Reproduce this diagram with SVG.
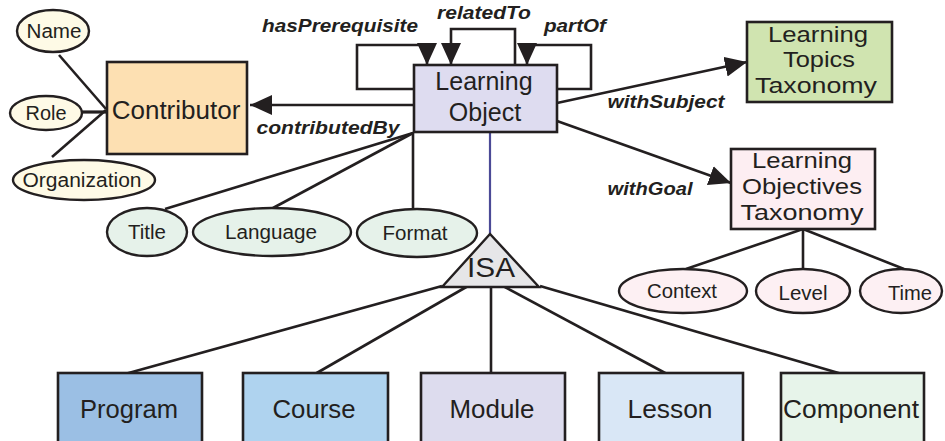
<svg xmlns="http://www.w3.org/2000/svg" width="945" height="441" viewBox="0 0 945 441">
<defs>
<marker id="arr" markerUnits="userSpaceOnUse" markerWidth="24" markerHeight="22" refX="22" refY="10" orient="auto">
<path d="M0,0 L22,10 L0,20 Z" fill="#231f20"/>
</marker>
<style>
.box{stroke:#231f20;stroke-width:2.6}
.ell{stroke:#231f20;stroke-width:2.4}
.ln{stroke:#231f20;stroke-width:2.6;fill:none}
.t{font-family:"Liberation Sans",Arial,sans-serif;fill:#231f20;text-anchor:middle}
.big{font-size:25px}
.tax{font-size:22px}
.sm{font-size:20px}
.lbl{font-family:"Liberation Sans",Arial,sans-serif;font-weight:bold;font-style:italic;font-size:19px;fill:#231f20;text-anchor:middle}
</style>
</defs>
<rect width="945" height="441" fill="#ffffff"/>

<g id="connectors">
<line class="ln" x1="59" y1="55" x2="106" y2="109"/>
<line class="ln" x1="82" y1="112" x2="107" y2="112" style="stroke-width:3.2"/>
<line class="ln" x1="52" y1="157" x2="106" y2="110"/>
<line class="ln" x1="413" y1="105" x2="250" y2="105" marker-end="url(#arr)"/>
<polyline class="ln" points="414,89 357,89 357,45 427,45 427,65" marker-end="url(#arr)"/>
<polyline class="ln" points="515,65 515,29 451,29 451,65" marker-end="url(#arr)"/>
<polyline class="ln" points="557,89 591,89 591,45 527,45 527,65" marker-end="url(#arr)"/>
<line class="ln" x1="557" y1="103" x2="747" y2="62" marker-end="url(#arr)"/>
<line class="ln" x1="557" y1="121" x2="731" y2="183" marker-end="url(#arr)"/>
<line class="ln" x1="413" y1="133" x2="165" y2="209"/>
<line class="ln" x1="413" y1="133" x2="273" y2="208"/>
<line class="ln" x1="413" y1="132" x2="413" y2="209"/>
<line x1="490" y1="132" x2="490" y2="234" stroke="#4b4a96" stroke-width="2.2"/>
<line class="ln" x1="803" y1="229" x2="686" y2="269"/>
<line class="ln" x1="803" y1="229" x2="803" y2="269"/>
<line class="ln" x1="803" y1="229" x2="904" y2="269"/>
<line class="ln" x1="442" y1="286" x2="125" y2="374"/>
<line class="ln" x1="468" y1="286" x2="315" y2="374"/>
<line class="ln" x1="491" y1="286" x2="491" y2="374"/>
<line class="ln" x1="503" y1="286" x2="667" y2="374"/>
<line class="ln" x1="540" y1="286" x2="842" y2="374"/>
<text class="lbl" x="340" y="32" textLength="156" lengthAdjust="spacingAndGlyphs">hasPrerequisite</text>
<text class="lbl" x="484" y="19" textLength="94" lengthAdjust="spacingAndGlyphs">relatedTo</text>
<text class="lbl" x="575" y="32" textLength="62" lengthAdjust="spacingAndGlyphs">partOf</text>
<text class="lbl" x="328" y="134" textLength="143" lengthAdjust="spacingAndGlyphs">contributedBy</text>
<text class="lbl" x="666" y="108" textLength="117" lengthAdjust="spacingAndGlyphs">withSubject</text>
<text class="lbl" x="650" y="195" textLength="85" lengthAdjust="spacingAndGlyphs">withGoal</text>
</g>

<g id="name"><ellipse class="ell" cx="53" cy="31" rx="36" ry="21" fill="#fefae6"/><text class="t sm" x="54" y="38" textLength="55" lengthAdjust="spacingAndGlyphs">Name</text></g>
<g id="role"><ellipse class="ell" cx="46" cy="113" rx="36" ry="17" fill="#fefae6"/><text class="t sm" x="46" y="120" textLength="41" lengthAdjust="spacingAndGlyphs">Role</text></g>
<g id="organization"><ellipse class="ell" cx="84" cy="180" rx="71" ry="20" fill="#fefae6"/><text class="t sm" x="82" y="187" textLength="119" lengthAdjust="spacingAndGlyphs">Organization</text></g>

<g id="contributor"><rect class="box" x="107" y="62" width="140" height="92" fill="#fde0b2"/><text class="t" style="font-size:26px" x="176" y="119">Contributor</text></g>

<g id="learning-object"><rect class="box" x="414" y="65" width="143" height="67" fill="#dedcf0"/>
<text class="t big" x="484" y="90">Learning</text><text class="t big" x="485" y="121">Object</text></g>

<g id="topics"><rect class="box" x="747" y="22" width="145" height="80" fill="#d0e4b0"/>
<text class="t tax" x="818" y="42" textLength="100" lengthAdjust="spacingAndGlyphs">Learning</text>
<text class="t tax" x="819" y="67" textLength="72" lengthAdjust="spacingAndGlyphs">Topics</text>
<text class="t tax" x="816" y="93" textLength="122" lengthAdjust="spacingAndGlyphs">Taxonomy</text></g>

<g id="objectives"><rect class="box" x="731" y="149" width="144" height="80" fill="#fdeef2"/>
<text class="t tax" x="802" y="168" textLength="100" lengthAdjust="spacingAndGlyphs">Learning</text>
<text class="t tax" x="802" y="194" textLength="120" lengthAdjust="spacingAndGlyphs">Objectives</text>
<text class="t tax" x="802" y="220" textLength="123" lengthAdjust="spacingAndGlyphs">Taxonomy</text></g>

<g id="title"><ellipse class="ell" cx="147" cy="232" rx="40" ry="24" fill="#e6f2ea"/><text class="t sm" x="147" y="239" textLength="38" lengthAdjust="spacingAndGlyphs">Title</text></g>
<g id="language"><ellipse class="ell" cx="272" cy="232" rx="79" ry="24" fill="#e6f2ea"/><text class="t sm" x="271" y="239" textLength="92" lengthAdjust="spacingAndGlyphs">Language</text></g>
<g id="format"><ellipse class="ell" cx="417" cy="233" rx="60" ry="24" fill="#e6f2ea"/><text class="t sm" x="415" y="240" textLength="65" lengthAdjust="spacingAndGlyphs">Format</text></g>

<g id="context"><ellipse class="ell" cx="683" cy="291" rx="64" ry="22" fill="#fdf0f3"/><text class="t sm" x="682" y="298" textLength="70" lengthAdjust="spacingAndGlyphs">Context</text></g>
<g id="level"><ellipse class="ell" cx="803" cy="291" rx="47" ry="22" fill="#fdf0f3"/><text class="t sm" x="803" y="300" textLength="49" lengthAdjust="spacingAndGlyphs">Level</text></g>
<g id="time"><ellipse class="ell" cx="901" cy="291" rx="41" ry="22" fill="#fdf0f3"/><text class="t sm" x="910" y="300" textLength="44" lengthAdjust="spacingAndGlyphs">Time</text></g>

<g id="isa"><polygon points="490,234 442,287 539,287" fill="#e6e6e8" stroke="#231f20" stroke-width="2.4" stroke-linejoin="miter"/><text class="t" style="font-size:27px" x="491" y="277" textLength="48" lengthAdjust="spacingAndGlyphs">ISA</text></g>

<g id="program"><rect class="box" x="58" y="373" width="144" height="80" fill="#9bbfe4"/><text class="t big" x="129" y="418" textLength="98" lengthAdjust="spacingAndGlyphs">Program</text></g>
<g id="course"><rect class="box" x="243" y="373" width="145" height="80" fill="#afd3ef"/><text class="t big" x="314" y="418" textLength="83" lengthAdjust="spacingAndGlyphs">Course</text></g>
<g id="module"><rect class="box" x="421" y="373" width="144" height="80" fill="#dddcee"/><text class="t big" x="492" y="418" textLength="85" lengthAdjust="spacingAndGlyphs">Module</text></g>
<g id="lesson"><rect class="box" x="599" y="373" width="144" height="80" fill="#d9e7f6"/><text class="t big" x="670" y="418" textLength="85" lengthAdjust="spacingAndGlyphs">Lesson</text></g>
<g id="component"><rect class="box" x="781" y="373" width="143" height="80" fill="#e7f4ea"/><text class="t big" x="851" y="418" textLength="136" lengthAdjust="spacingAndGlyphs">Component</text></g>
</svg>
